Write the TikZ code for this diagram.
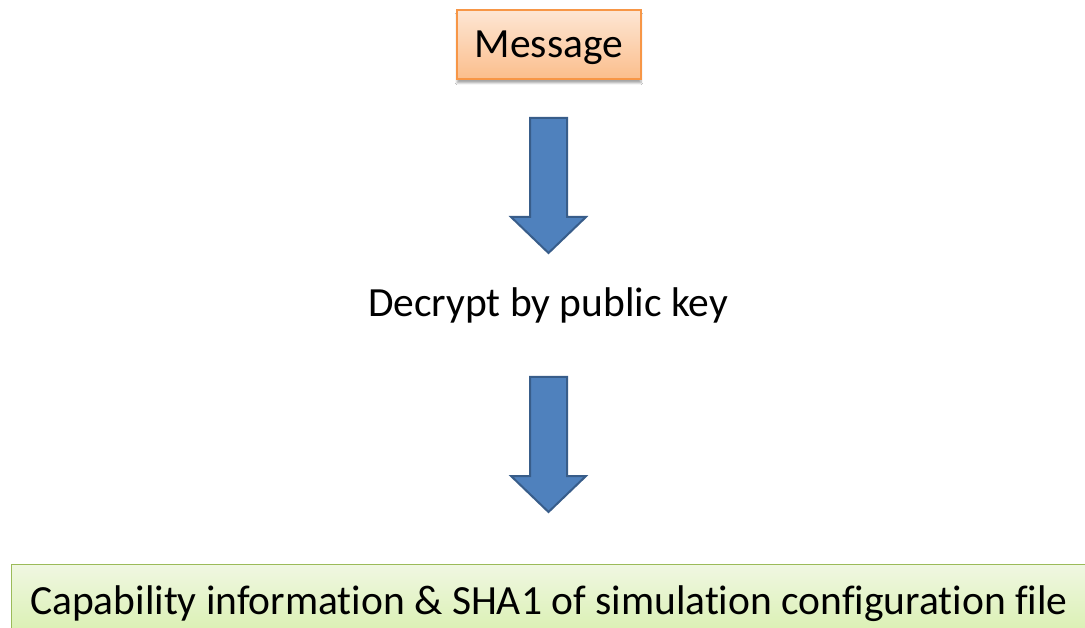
\documentclass[tikz,border=0pt]{standalone}
\usepackage{fontspec}
\setmainfont{Carlito}[RawFeature={-liga;-clig;-dlig;-calt}]
\usetikzlibrary{shadows.blur}
\definecolor{orangeEdge}{HTML}{F79646}
\definecolor{orangeTop}{HTML}{FDE6D4}
\definecolor{orangeBot}{HTML}{FBBE8C}
\definecolor{greenEdge}{HTML}{9BBB59}
\definecolor{greenTop}{HTML}{F0F7E2}
\definecolor{greenBot}{HTML}{D9F0B0}
\definecolor{arrowFill}{HTML}{4F81BD}
\definecolor{arrowEdge}{HTML}{385D8A}
\tikzset{
  labeltext/.style={font=\fontsize{41.5}{48}\selectfont, text=black, inner sep=0pt},
  msgbox/.style={draw=orangeEdge, line width=1.5pt,
    top color=orangeTop, bottom color=orangeBot,
    minimum width=184pt, minimum height=69pt, inner sep=0pt,
    blur shadow={shadow xshift=0pt, shadow yshift=-4pt, shadow blur steps=6, shadow opacity=35}},
  resultbox/.style={draw=greenEdge, line width=1.5pt,
    top color=greenTop, bottom color=greenBot,
    minimum width=1090pt, minimum height=72pt, inner sep=0pt},
  blockarrow/.pic={
    \draw[fill=arrowFill, draw=arrowEdge, line width=2pt, line join=miter]
      (-18.5,0) -- (18.5,0) -- (18.5,99) -- (37.5,99) -- (0,135)
      -- (-37.5,99) -- (-18.5,99) -- cycle;
  }
}
\begin{document}
\begin{tikzpicture}[x=1pt,y=-1pt]
  \useasboundingbox (0,0) rectangle (1085,628);
  \fill[white] (0,0) rectangle (1085,628);
  % input message
  \node[msgbox] (msg) at (549,44.5) {};
  \node[labeltext, anchor=base] (msgtext) at (549,58) {Message};
  % first step arrow
  \pic (down1) at (548.5,118) {blockarrow};
  % decryption step
  \node[labeltext, anchor=base] (decrypt) at (548,317) {Decrypt by public key};
  % second step arrow
  \pic (down2) at (548.5,377) {blockarrow};
  % resulting content
  \node[resultbox, anchor=north west] (result) at (10.5,563.5) {};
  \node[labeltext, anchor=base] (resulttext) at (549,614) {Capability information \& SHA1 of simulation configuration file};
\end{tikzpicture}
\end{document}
